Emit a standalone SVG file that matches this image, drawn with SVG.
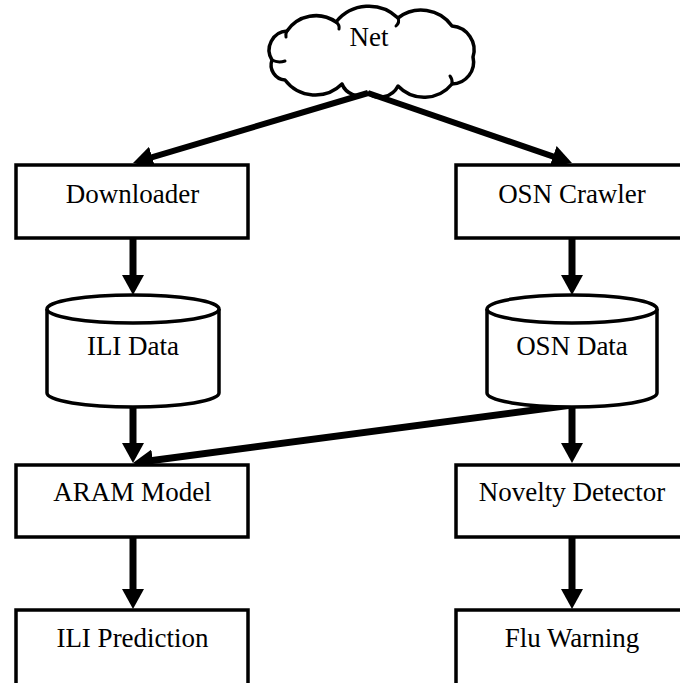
<svg xmlns="http://www.w3.org/2000/svg" width="680" height="683" viewBox="0 0 680 683">
  <style>
    .box { fill: #fff; stroke: #000; stroke-width: 3.5; }
    .db { fill: #fff; stroke: #000; stroke-width: 3.5; }
    .cloud { fill: #fff; stroke: #000; stroke-width: 3.5; stroke-linejoin: round; }
    .hook { fill: none; stroke: #000; stroke-width: 3; stroke-linecap: round; }
    .lbl { font-family: "Liberation Serif", "Times New Roman", serif; font-size: 27px; fill: #000; text-anchor: middle; }
    .edge { fill: none; stroke: #000; stroke-width: 7; marker-end: url(#head); }
    .edge.thin { stroke-width: 6; }
  </style>
  <defs>
    <marker id="head" markerUnits="userSpaceOnUse" markerWidth="20" markerHeight="22" viewBox="0 0 20 22" refX="12" refY="11" orient="auto">
      <path d="M0,0 L20,11 L0,22 Z" fill="#000"/>
    </marker>
  </defs>
  <rect width="680" height="683" fill="#fff"/>

  <!-- Net cloud -->
  <g id="net">
    <path class="cloud" d="M287,31 A35 35 0 0 1 336,22 A42 42 0 0 1 398,18 A38 38 0 0 1 452,26 A24 24 0 0 1 473,57 A22 22 0 0 1 452,84 A36 36 0 0 1 398,86 A20 20 0 0 1 368,93 A18 18 0 0 1 342,84 A38 38 0 0 1 285,80 A15 15 0 0 1 272,60 A19 19 0 0 1 287,31 Z"/>
    <path class="hook" d="M336,22 a10 8 0 0 1 3,7"/>
    <path class="hook" d="M398,18 a10 8 0 0 1 -2,8"/>
    <path class="hook" d="M272,60 a12 8 0 0 0 13,1"/>
    <path class="hook" d="M287,31 a12 10 0 0 0 -1,6"/>
    <path class="hook" d="M452,84 a10 10 0 0 0 -2,-8"/>
    <text class="lbl" x="369" y="46">Net</text>
  </g>

  <!-- connectors -->
  <g id="connectors">
    <line class="edge thin" x1="368" y1="93" x2="140.7" y2="160.7"/>
    <line class="edge thin" x1="368" y1="93" x2="564.4" y2="160.4"/>
    <line class="edge" x1="133" y1="239" x2="133" y2="287"/>
    <line class="edge" x1="572" y1="239" x2="572" y2="287"/>
    <line class="edge" x1="133" y1="407" x2="133" y2="455"/>
    <line class="edge" x1="572" y1="405" x2="572" y2="455"/>
    <line class="edge" x1="572" y1="405" x2="140.9" y2="462"/>
    <line class="edge" x1="133" y1="538" x2="133" y2="601"/>
    <line class="edge" x1="572" y1="538" x2="572" y2="601"/>
  </g>

  <g id="downloader">
    <rect class="box" x="16" y="165" width="232" height="73"/>
    <text class="lbl" x="132.5" y="203">Downloader</text>
  </g>
  <g id="osn-crawler">
    <rect class="box" x="456" y="165" width="232" height="73"/>
    <text class="lbl" x="572" y="203">OSN Crawler</text>
  </g>

  <g id="ili-data">
    <path class="db" d="M47,309 L47,393 A86 14 0 0 0 219,393 L219,309"/>
    <ellipse class="db" cx="133" cy="309" rx="86" ry="14"/>
    <text class="lbl" x="133" y="355">ILI Data</text>
  </g>
  <g id="osn-data">
    <path class="db" d="M487,309 L487,393 A85 14 0 0 0 657,393 L657,309"/>
    <ellipse class="db" cx="572" cy="309" rx="85" ry="14"/>
    <text class="lbl" x="572" y="355">OSN Data</text>
  </g>

  <g id="aram-model">
    <rect class="box" x="16" y="465" width="232" height="72"/>
    <text class="lbl" x="132.5" y="501">ARAM Model</text>
  </g>
  <g id="novelty-detector">
    <rect class="box" x="456" y="465" width="232" height="72"/>
    <text class="lbl" x="572" y="501">Novelty Detector</text>
  </g>

  <g id="ili-prediction">
    <rect class="box" x="16" y="610" width="232" height="90"/>
    <text class="lbl" x="132.5" y="647">ILI Prediction</text>
  </g>
  <g id="flu-warning">
    <rect class="box" x="456" y="610" width="232" height="90"/>
    <text class="lbl" x="572" y="647">Flu Warning</text>
  </g>
</svg>
